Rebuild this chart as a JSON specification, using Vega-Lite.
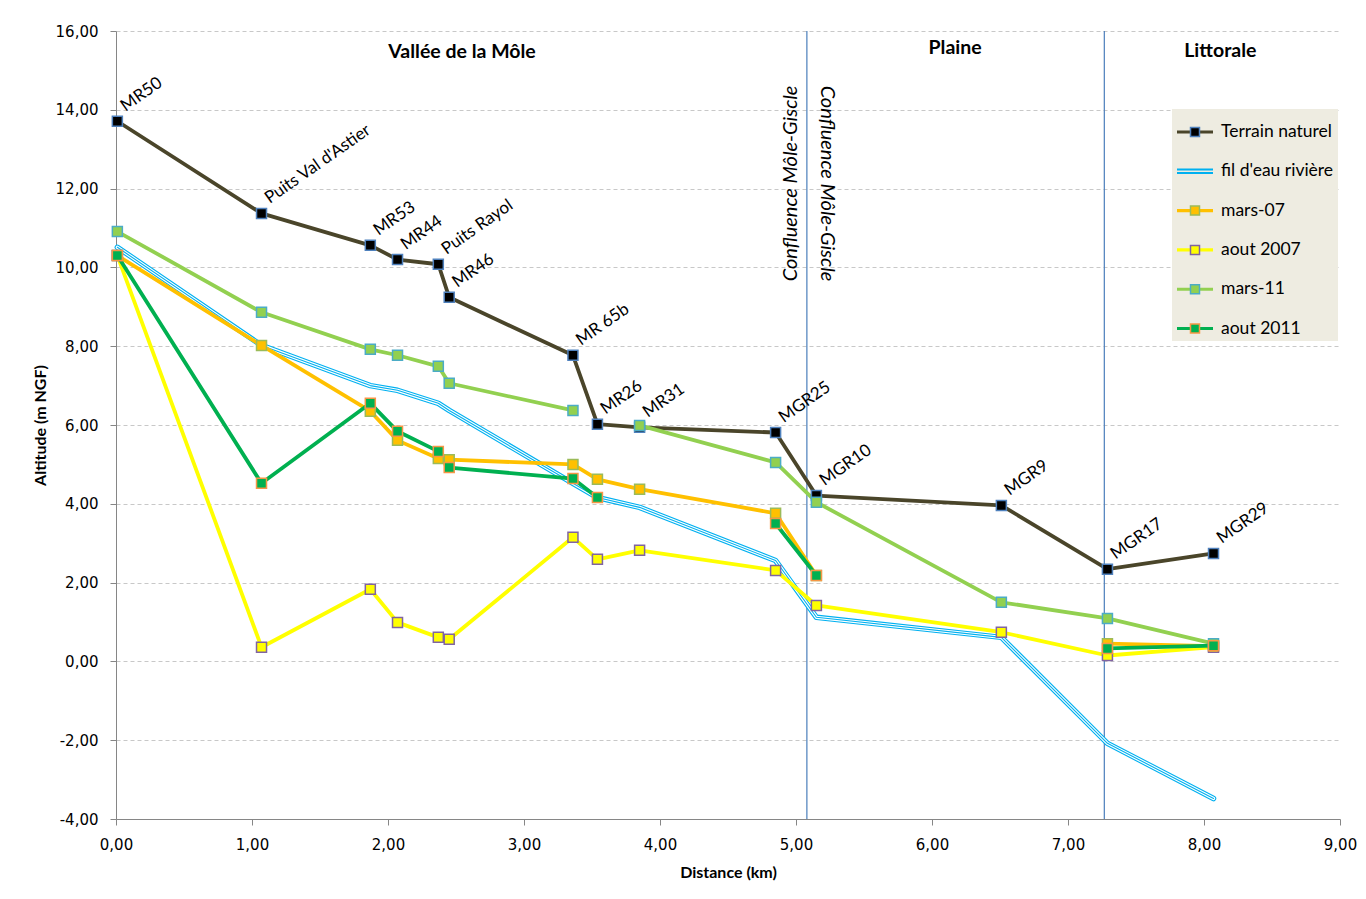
{
  "$schema": "https://vega.github.io/schema/vega-lite/v6.json",
  "width": 1224,
  "height": 788,
  "autosize": {"type": "none"},
  "padding": {"left": 116, "top": 31, "right": 26, "bottom": 80},
  "background": "white",
  "config": {"view": {"stroke": null}, "font": "Lato"},
  "data": {
    "values": [
      {"series": "Terrain naturel", "seg": "a", "d": 0.01, "alt": 13.71, "label": "MR50"},
      {"series": "Terrain naturel", "seg": "a", "d": 1.07, "alt": 11.37, "label": "Puits Val d'Astier"},
      {"series": "Terrain naturel", "seg": "a", "d": 1.87, "alt": 10.56, "label": "MR53"},
      {"series": "Terrain naturel", "seg": "a", "d": 2.07, "alt": 10.2, "label": "MR44"},
      {"series": "Terrain naturel", "seg": "a", "d": 2.37, "alt": 10.08, "label": "Puits Rayol"},
      {"series": "Terrain naturel", "seg": "a", "d": 2.45, "alt": 9.24, "label": "MR46"},
      {"series": "Terrain naturel", "seg": "a", "d": 3.36, "alt": 7.77, "label": "MR 65b"},
      {"series": "Terrain naturel", "seg": "a", "d": 3.54, "alt": 6.02, "label": "MR26"},
      {"series": "Terrain naturel", "seg": "a", "d": 3.85, "alt": 5.94, "label": "MR31"},
      {"series": "Terrain naturel", "seg": "a", "d": 4.85, "alt": 5.81, "label": "MGR25"},
      {"series": "Terrain naturel", "seg": "a", "d": 5.15, "alt": 4.21, "label": "MGR10"},
      {"series": "Terrain naturel", "seg": "a", "d": 6.51, "alt": 3.96, "label": "MGR9"},
      {"series": "Terrain naturel", "seg": "a", "d": 7.29, "alt": 2.34, "label": "MGR17"},
      {"series": "Terrain naturel", "seg": "a", "d": 8.07, "alt": 2.74, "label": "MGR29"},
      {"series": "fil d'eau rivière", "seg": "a", "d": 0.01, "alt": 10.51},
      {"series": "fil d'eau rivière", "seg": "a", "d": 1.07, "alt": 8.02},
      {"series": "fil d'eau rivière", "seg": "a", "d": 1.87, "alt": 7.0},
      {"series": "fil d'eau rivière", "seg": "a", "d": 2.07, "alt": 6.88},
      {"series": "fil d'eau rivière", "seg": "a", "d": 2.37, "alt": 6.55},
      {"series": "fil d'eau rivière", "seg": "a", "d": 2.45, "alt": 6.37},
      {"series": "fil d'eau rivière", "seg": "a", "d": 3.36, "alt": 4.52},
      {"series": "fil d'eau rivière", "seg": "a", "d": 3.54, "alt": 4.16},
      {"series": "fil d'eau rivière", "seg": "a", "d": 3.85, "alt": 3.91},
      {"series": "fil d'eau rivière", "seg": "a", "d": 4.85, "alt": 2.56},
      {"series": "fil d'eau rivière", "seg": "a", "d": 5.15, "alt": 1.12},
      {"series": "fil d'eau rivière", "seg": "a", "d": 6.51, "alt": 0.61},
      {"series": "fil d'eau rivière", "seg": "a", "d": 7.29, "alt": -2.08},
      {"series": "fil d'eau rivière", "seg": "a", "d": 8.07, "alt": -3.48},
      {"series": "mars-07", "seg": "a", "d": 0.01, "alt": 10.3},
      {"series": "mars-07", "seg": "a", "d": 1.07, "alt": 8.02},
      {"series": "mars-07", "seg": "a", "d": 1.87, "alt": 6.35},
      {"series": "mars-07", "seg": "a", "d": 2.07, "alt": 5.61},
      {"series": "mars-07", "seg": "a", "d": 2.37, "alt": 5.15},
      {"series": "mars-07", "seg": "a", "d": 2.45, "alt": 5.12},
      {"series": "mars-07", "seg": "a", "d": 3.36, "alt": 5.0},
      {"series": "mars-07", "seg": "a", "d": 3.54, "alt": 4.62},
      {"series": "mars-07", "seg": "a", "d": 3.85, "alt": 4.37},
      {"series": "mars-07", "seg": "a", "d": 4.85, "alt": 3.76},
      {"series": "mars-07", "seg": "a", "d": 5.15, "alt": 2.18},
      {"series": "mars-07", "seg": "b", "d": 7.29, "alt": 0.45},
      {"series": "mars-07", "seg": "b", "d": 8.07, "alt": 0.39},
      {"series": "aout 2007", "seg": "a", "d": 0.01, "alt": 10.3},
      {"series": "aout 2007", "seg": "a", "d": 1.07, "alt": 0.36},
      {"series": "aout 2007", "seg": "a", "d": 1.87, "alt": 1.83},
      {"series": "aout 2007", "seg": "a", "d": 2.07, "alt": 0.99},
      {"series": "aout 2007", "seg": "a", "d": 2.37, "alt": 0.61},
      {"series": "aout 2007", "seg": "a", "d": 2.45, "alt": 0.56},
      {"series": "aout 2007", "seg": "a", "d": 3.36, "alt": 3.15},
      {"series": "aout 2007", "seg": "a", "d": 3.54, "alt": 2.59},
      {"series": "aout 2007", "seg": "a", "d": 3.85, "alt": 2.82},
      {"series": "aout 2007", "seg": "a", "d": 4.85, "alt": 2.31},
      {"series": "aout 2007", "seg": "a", "d": 5.15, "alt": 1.42},
      {"series": "aout 2007", "seg": "a", "d": 6.51, "alt": 0.74},
      {"series": "aout 2007", "seg": "a", "d": 7.29, "alt": 0.15},
      {"series": "aout 2007", "seg": "a", "d": 8.07, "alt": 0.36},
      {"series": "mars-11", "seg": "a", "d": 0.01, "alt": 10.91},
      {"series": "mars-11", "seg": "a", "d": 1.07, "alt": 8.86},
      {"series": "mars-11", "seg": "a", "d": 1.87, "alt": 7.92},
      {"series": "mars-11", "seg": "a", "d": 2.07, "alt": 7.77},
      {"series": "mars-11", "seg": "a", "d": 2.37, "alt": 7.49},
      {"series": "mars-11", "seg": "a", "d": 2.45, "alt": 7.06},
      {"series": "mars-11", "seg": "a", "d": 3.36, "alt": 6.37},
      {"series": "mars-11", "seg": "b", "d": 3.85, "alt": 5.99},
      {"series": "mars-11", "seg": "b", "d": 4.85, "alt": 5.05},
      {"series": "mars-11", "seg": "b", "d": 5.15, "alt": 4.04},
      {"series": "mars-11", "seg": "b", "d": 6.51, "alt": 1.5},
      {"series": "mars-11", "seg": "b", "d": 7.29, "alt": 1.09},
      {"series": "mars-11", "seg": "b", "d": 8.07, "alt": 0.45},
      {"series": "aout 2011", "seg": "a", "d": 0.01, "alt": 10.3},
      {"series": "aout 2011", "seg": "a", "d": 1.07, "alt": 4.52},
      {"series": "aout 2011", "seg": "a", "d": 1.87, "alt": 6.55},
      {"series": "aout 2011", "seg": "a", "d": 2.07, "alt": 5.84},
      {"series": "aout 2011", "seg": "a", "d": 2.37, "alt": 5.33},
      {"series": "aout 2011", "seg": "a", "d": 2.45, "alt": 4.92},
      {"series": "aout 2011", "seg": "a", "d": 3.36, "alt": 4.64},
      {"series": "aout 2011", "seg": "a", "d": 3.54, "alt": 4.16},
      {"series": "aout 2011", "seg": "b", "d": 4.85, "alt": 3.5},
      {"series": "aout 2011", "seg": "b", "d": 5.15, "alt": 2.18},
      {"series": "aout 2011", "seg": "c", "d": 7.29, "alt": 0.33},
      {"series": "aout 2011", "seg": "c", "d": 8.07, "alt": 0.4}
    ]
  },
  "layer": [
    {
      "data": {"values": [{}]},
      "mark": {"type": "rule", "color": "#4a7ebb", "strokeWidth": 1.2},
      "encoding": {
        "x": {"datum": 5.08, "type": "quantitative"},
        "y": {"datum": -4, "type": "quantitative"},
        "y2": {"datum": 16}
      }
    },
    {
      "data": {"values": [{}]},
      "mark": {"type": "rule", "color": "#4a7ebb", "strokeWidth": 1.2},
      "encoding": {
        "x": {"datum": 7.267, "type": "quantitative"},
        "y": {"datum": -4, "type": "quantitative"},
        "y2": {"datum": 16}
      }
    },
    {
      "data": {"values": [{}]},
      "mark": {"type": "text", "font": "Lato", "fontSize": 19.5, "fontWeight": "bold", "color": "#000000", "align": "center", "baseline": "middle"},
      "encoding": {
        "x": {"datum": 2.544, "type": "quantitative"},
        "y": {"datum": 15.46, "type": "quantitative"},
        "text": {"value": "Vallée de la Môle"}
      }
    },
    {
      "data": {"values": [{}]},
      "mark": {"type": "text", "font": "Lato", "fontSize": 19.5, "fontWeight": "bold", "color": "#000000", "align": "center", "baseline": "middle"},
      "encoding": {
        "x": {"datum": 6.17, "type": "quantitative"},
        "y": {"datum": 15.56, "type": "quantitative"},
        "text": {"value": "Plaine"}
      }
    },
    {
      "data": {"values": [{}]},
      "mark": {"type": "text", "font": "Lato", "fontSize": 19.5, "fontWeight": "bold", "color": "#000000", "align": "center", "baseline": "middle"},
      "encoding": {
        "x": {"datum": 8.12, "type": "quantitative"},
        "y": {"datum": 15.48, "type": "quantitative"},
        "text": {"value": "Littorale"}
      }
    },
    {
      "data": {"values": [{}]},
      "mark": {"type": "text", "font": "Lato", "fontSize": 20, "fontStyle": "italic", "color": "#000000", "align": "center", "baseline": "middle", "angle": -90},
      "encoding": {
        "x": {"datum": 4.963, "type": "quantitative"},
        "y": {"datum": 12.13, "type": "quantitative"},
        "text": {"value": "Confluence Môle-Giscle"}
      }
    },
    {
      "data": {"values": [{}]},
      "mark": {"type": "text", "font": "Lato", "fontSize": 20, "fontStyle": "italic", "color": "#000000", "align": "center", "baseline": "middle", "angle": 90},
      "encoding": {
        "x": {"datum": 5.225, "type": "quantitative"},
        "y": {"datum": 12.13, "type": "quantitative"},
        "text": {"value": "Confluence Môle-Giscle"}
      }
    },
    {
      "encoding": {
        "x": {
          "field": "d", "type": "quantitative",
          "scale": {"domain": [0, 9], "nice": false, "zero": false},
          "axis": {
            "title": "Distance  (km)", "values": [0, 1, 2, 3, 4, 5, 6, 7, 8, 9],
            "labelExpr": "replace(replace(format(datum.value, '.2f'), '.', ','), '−', '-')",
            "grid": false, "domainColor": "#868686", "tickColor": "#868686", "tickSize": 6,
            "labelFont": "DejaVu Sans", "labelFontSize": 15, "labelColor": "#000000", "labelPadding": 12,
            "labelFlush": false, "labelOverlap": false,
            "titleFont": "Lato", "titleFontSize": 16, "titleFontWeight": "bold", "titleColor": "#000000", "titlePadding": 12
          }
        },
        "y": {
          "field": "alt", "type": "quantitative",
          "scale": {"domain": [-4, 16], "nice": false, "zero": false},
          "axis": {
            "title": "Altitude (m NGF)", "values": [-4, -2, 0, 2, 4, 6, 8, 10, 12, 14, 16],
            "labelExpr": "replace(replace(format(datum.value, '.2f'), '.', ','), '−', '-')",
            "grid": true, "gridColor": "#c8c8c8", "gridDash": [4, 3],
            "domainColor": "#868686", "tickColor": "#868686", "tickSize": 6,
            "labelFont": "DejaVu Sans", "labelFontSize": 15, "labelColor": "#000000", "labelPadding": 12,
            "labelOverlap": false,
            "titleFont": "Lato", "titleFontSize": 16, "titleFontWeight": "bold", "titleColor": "#000000", "titlePadding": 7
          }
        }
      },
      "layer": [
        {
          "transform": [{"filter": "datum.series === \"fil d'eau rivière\""}],
          "mark": {"type": "line", "color": "#00b0f0", "strokeWidth": 5.5, "strokeJoin": "round", "strokeCap": "round"}
        },
        {
          "transform": [{"filter": "datum.series === \"fil d'eau rivière\""}],
          "mark": {"type": "line", "color": "#ffffff", "strokeWidth": 3.3, "strokeJoin": "round", "strokeCap": "round"}
        },
        {
          "transform": [{"filter": "datum.series === \"fil d'eau rivière\""}],
          "mark": {"type": "line", "color": "#00b0f0", "strokeWidth": 1.1, "strokeJoin": "round", "strokeCap": "round"}
        },
        {
          "transform": [{"filter": "datum.series !== \"fil d'eau rivière\""}],
          "mark": {"type": "line", "strokeWidth": 3.8, "strokeJoin": "round", "strokeCap": "round"},
          "encoding": {
            "stroke": {
              "field": "series", "type": "nominal",
              "scale": {
                "domain": ["Terrain naturel", "fil d'eau rivière", "mars-07", "aout 2007", "mars-11", "aout 2011"],
                "range": ["#4a452a", "#00b0f0", "#ffc000", "#ffff00", "#92d050", "#00b050"]
              },
              "legend": {
                "orient": "none", "legendX": 1056, "legendY": 78, "title": null,
                "padding": 4, "fillColor": "#eeece1", "strokeColor": null,
                "symbolSize": 1296, "symbolStrokeWidth": 2, "symbolOffset": 0, "symbolType": "M-1,-0.03H1M-1,0.03H1",
                "labelOffset": 7, "rowPadding": 11.3,
                "labelFont": "Lato", "labelFontSize": 17.5, "labelColor": "#000000", "labelLimit": 0,
                "labelExpr": "datum.label + '\u00a0\u00a0\u00a0\u00a0\u00a0'",
                "encode": {
                  "symbols": {
                    "update": {
                      "shape": {"signal": "datum.value === \"fil d'eau rivière\" ? 'M-1,-0.1H1M-1,0.1H1' : 'M-1,-0.03H1M-1,0.03H1'"}
                    }
                  }
                }
              }
            },
            "detail": {"field": "seg", "type": "nominal"}
          }
        },
        {
          "transform": [{"filter": "datum.series !== \"fil d'eau rivière\""}],
          "mark": {"type": "point", "shape": "square", "filled": true, "size": 100, "strokeWidth": 1.5, "opacity": 1},
          "encoding": {
            "fill": {
              "field": "series", "type": "nominal",
              "scale": {
                "domain": ["Terrain naturel", "fil d'eau rivière", "mars-07", "aout 2007", "mars-11", "aout 2011"],
                "range": ["#000000", "transparent", "#ffc000", "#ffff00", "#92d050", "#00b050"]
              },
              "legend": {
                "orient": "none", "legendX": 1056, "legendY": 78, "title": null,
                "padding": 4, "fillColor": null, "strokeColor": null,
                "symbolSize": 1332.25, "symbolStrokeWidth": 1.5, "symbolOffset": 0,
                "symbolType": "M-0.2466,-0.2466H0.2466V0.2466H-0.2466Z",
                "labelOffset": 7, "rowPadding": 11.3,
                "labelFont": "Lato", "labelFontSize": 17.5, "labelOpacity": 0, "labelLimit": 0,
                "labelExpr": "datum.label + '\u00a0\u00a0\u00a0\u00a0\u00a0'",
                "encode": {
                  "symbols": {
                    "update": {
                      "stroke": {"signal": "datum.value === 'Terrain naturel' ? '#4f81bd' : datum.value === 'mars-07' ? '#9bbb59' : datum.value === 'aout 2007' ? '#8064a2' : datum.value === 'mars-11' ? '#4bacc6' : datum.value === 'aout 2011' ? '#f79646' : 'transparent'"},
                      "opacity": {"value": 1}
                    }
                  }
                }
              }
            },
            "stroke": {
              "field": "series", "type": "nominal",
              "scale": {
                "domain": ["Terrain naturel", "fil d'eau rivière", "mars-07", "aout 2007", "mars-11", "aout 2011"],
                "range": ["#4f81bd", "transparent", "#9bbb59", "#8064a2", "#4bacc6", "#f79646"]
              },
              "legend": null
            }
          }
        },
        {
          "transform": [{"filter": "isValid(datum.label)"}],
          "mark": {"type": "text", "font": "Lato", "fontSize": 17, "color": "#000000", "angle": -35, "align": "left", "baseline": "alphabetic", "dx": 12, "dy": -3},
          "encoding": {
            "text": {"field": "label"}
          }
        }
      ],
      "resolve": {
        "scale": {"stroke": "independent", "fill": "independent"},
        "legend": {"stroke": "independent", "fill": "independent"}
      }
    }
  ]
}
